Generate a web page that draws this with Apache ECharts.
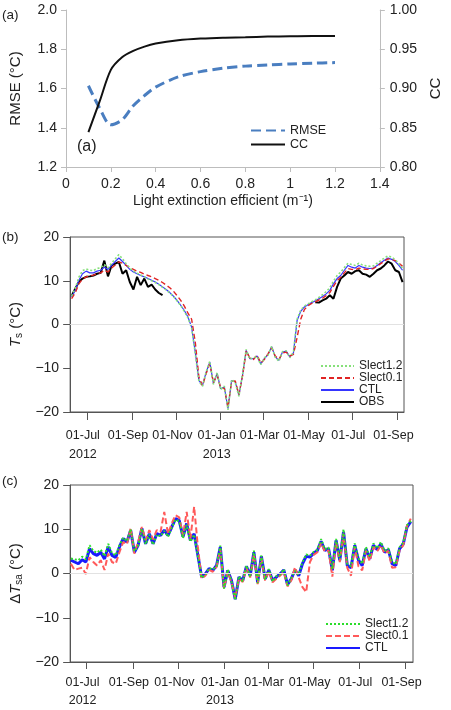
<!DOCTYPE html>
<html>
<head>
<meta charset="utf-8">
<script src="https://cdn.jsdelivr.net/npm/echarts@6/dist/echarts.min.js"></script>
<style>
  html, body { margin: 0; padding: 0; background: #fff; }
  #chart { width: 451px; height: 710px; }
</style>
</head>
<body>
<div id="chart"></div>
<script>
// (a) RMSE / CC against light extinction efficient
var extinction = [0.1, 0.15, 0.2, 0.25, 0.3, 0.35, 0.4, 0.5, 0.6, 0.7, 0.8, 0.9, 1.0, 1.1, 1.2];
var rmse = [1.614, 1.50, 1.415, 1.44, 1.512, 1.564, 1.607, 1.659, 1.686, 1.703, 1.714, 1.720, 1.725, 1.729, 1.732];
var cc = [0.8445, 0.8835, 0.9237, 0.9398, 0.9479, 0.9534, 0.9572, 0.9614, 0.9636, 0.9648, 0.9653, 0.9661, 0.9665, 0.9669, 0.9669];

// (b) and (c): one sample every 5 days from 10 Jun 2012
var sampleStart = [2012, 6, 10];
var sampleStep = 5;

// (b) Ts
var tsSlect12 = [6.5, 8.3, 10.8, 12.3, 12.7, 12.4, 12.3, 12.8, 13.0, 13.7, 13.0, 14.0, 15.0, 16.0, 15.0, 13.9, 12.9, 12.2, 11.7, 11.3,
  10.9, 10.4, 10.0, 9.6, 9.1, 8.5, 7.9, 7.2, 6.4, 5.4, 4.3, 3.0, 1.5, -0.8, -6.6, -13.0, -14.1, -10.8, -8.4, -13.7,
  -11.0, -14.9, -14.1, -19.5, -12.6, -13.3, -16.4, -11.4, -5.7, -7.9, -7.6, -7.3, -9.2, -7.6, -7.0, -5.0, -7.5, -8.4, -6.2, -6.0,
  -7.6, -6.3, 1.2, 3.3, 4.2, 4.7, 5.2, 5.6, 6.2, 6.8, 7.5, 8.4, 9.9, 11.2, 12.0, 13.0, 14.0, 13.7, 13.5, 14.0,
  13.6, 13.4, 13.3, 13.4, 14.0, 14.6, 15.2, 15.7, 15.4, 14.8, 13.9, 12.8];
var tsSlect01 = [5.9, 7.2, 9.3, 10.4, 10.9, 11.1, 11.3, 11.6, 11.8, 12.4, 12.0, 12.9, 13.6, 14.3, 14.0, 13.5, 13.0, 12.6, 12.2, 11.9,
  11.5, 11.2, 10.9, 10.5, 10.1, 9.6, 9.0, 8.4, 7.6, 6.6, 5.5, 4.2, 2.6, 1.2, -4.0, -12.0, -14.0, -11.2, -8.9, -13.3,
  -11.5, -14.5, -14.6, -18.9, -13.0, -12.9, -16.0, -11.8, -6.1, -7.6, -8.0, -7.0, -8.8, -8.0, -6.7, -5.3, -7.2, -8.0, -6.5, -6.3,
  -7.2, -6.8, -3.0, 1.2, 3.4, 4.3, 4.8, 5.2, 5.6, 6.0, 6.6, 7.3, 8.7, 10.0, 10.8, 11.8, 12.8, 12.6, 12.5, 12.9,
  12.7, 12.6, 12.6, 12.8, 13.3, 13.9, 14.5, 15.0, 14.9, 14.6, 14.0, 13.3];
var tsCtl = [6.3, 7.8, 10.1, 11.6, 12.2, 11.8, 11.8, 12.2, 12.4, 13.1, 12.6, 13.5, 14.4, 15.2, 14.4, 13.5, 12.6, 12.0, 11.6, 11.2,
  10.9, 10.5, 10.1, 9.7, 9.2, 8.6, 8.0, 7.3, 6.5, 5.5, 4.4, 3.2, 1.7, -0.6, -6.3, -12.8, -13.9, -10.9, -8.6, -13.5,
  -11.2, -14.7, -14.3, -19.2, -12.8, -13.1, -16.2, -11.6, -5.9, -7.8, -7.8, -7.2, -9.0, -7.8, -6.9, -5.1, -7.4, -8.2, -6.3, -6.1,
  -7.4, -6.5, 0.9, 3.0, 4.0, 4.5, 5.0, 5.4, 5.9, 6.4, 7.0, 7.8, 9.3, 10.5, 11.2, 12.4, 13.5, 13.1, 12.9, 13.5,
  13.1, 12.9, 12.8, 12.9, 13.5, 14.1, 14.7, 15.2, 14.9, 14.4, 13.5, 12.4];
var tsObs = [6.5, 8.2, 9.7, 10.5, 10.9, 11.0, 11.2, 11.6, 11.8, 14.6, 11.0, 13.5, 13.9, 14.3, 11.6, 12.4, 9.7, 8.0, 10.9, 9.0,
  10.5, 8.6, 9.1, 8.0, 7.2, 6.7, null, null, null, null, null, null, null, null, null, null, null, null, null, null,
  null, null, null, null, null, null, null, null, null, null, null, null, null, null, null, null, null, null, null, null,
  null, null, null, null, null, null, null, 5.1, 5.0, 5.5, 5.9, 6.7, 5.9, 8.6, 10.5, 11.2, 12.0, 11.6, 12.2, 12.4,
  11.6, 11.4, 10.9, 11.6, 12.4, 12.8, 13.5, 14.4, 13.9, 12.4, 12.0, 9.7];

// (c) delta Tsa
var dtSlect12 = [3.4, 3.2, 3.0, 3.8, 3.2, 6.4, 5.1, 4.7, 5.4, 3.9, 6.7, 4.6, 4.1, 6.4, 8.1, 7.3, 10.0, 5.0, 6.3, 10.1,
  6.6, 8.8, 6.5, 8.8, 8.4, 9.6, 8.3, 10.3, 12.2, 11.8, 8.0, 11.0, 7.2, 8.8, 3.8, -1.0, -0.3, 1.2, 0.9, 1.6,
  6.3, -3.4, 0.9, -1.8, -6.0, -0.6, -1.8, 1.8, -0.7, 5.2, -2.2, 4.1, -1.4, 1.0, -1.8, -0.6, -0.3, 1.0, -2.7, -1.0,
  0.6, -0.3, 2.6, 4.3, 4.0, 4.9, 5.4, 7.8, 5.5, 5.9, 1.0, 7.8, 3.3, 10.0, 2.1, 1.7, 6.8, 3.4, 2.2, 6.0,
  3.7, 6.8, 5.7, 7.1, 5.1, 5.7, 2.6, 2.1, 5.9, 7.0, 10.9, 11.9];
var dtSlect01 = [2.2, 0.8, 1.1, 1.3, -0.1, 3.7, 2.6, 1.8, 3.0, 0.8, 4.5, 2.6, 2.2, 4.8, 7.1, 6.6, 10.2, 4.5, 7.1, 10.5,
  7.5, 9.8, 7.7, 9.8, 9.4, 13.9, 9.0, 11.3, 13.2, 12.7, 8.6, 13.9, 7.9, 15.1, 6.0, -1.2, -0.5, 0.8, 0.4, 1.5,
  5.6, -3.4, 0.4, -2.0, -5.5, -1.1, -1.9, 1.3, -0.9, 4.4, -2.4, 3.5, -1.6, 0.5, -2.0, -1.2, -0.5, 0.4, -2.9, -1.6,
  1.4, -0.9, -3.1, -4.2, 2.6, 4.2, 4.8, 6.9, 4.9, 5.2, -0.7, 7.1, 2.6, 9.0, 1.3, -0.5, 6.0, 1.6, 0.7, 5.2,
  2.8, 6.0, 5.0, 6.4, 4.5, 5.1, 1.3, 1.4, 5.2, 6.4, 10.8, 12.4];
var dtCtl = [3.0, 2.6, 2.2, 3.1, 2.6, 5.6, 4.5, 4.1, 4.8, 3.3, 6.0, 4.1, 3.6, 6.0, 7.9, 7.1, 9.8, 4.8, 6.4, 10.2,
  6.7, 9.0, 6.7, 9.0, 8.6, 9.8, 8.6, 10.5, 12.4, 12.0, 8.3, 11.3, 7.5, 9.0, 4.1, -0.8, -0.1, 1.1, 0.7, 1.8,
  6.0, -3.1, 0.7, -1.6, -5.8, -0.8, -1.6, 1.6, -0.5, 4.8, -2.0, 3.9, -1.2, 0.8, -1.6, -0.8, -0.1, 0.8, -2.5, -1.2,
  0.8, -0.5, 2.2, 3.9, 3.7, 4.6, 5.2, 7.3, 5.2, 5.6, 0.7, 7.5, 3.0, 9.4, 1.8, 1.3, 6.4, 3.0, 1.8, 5.6,
  3.3, 6.4, 5.4, 6.7, 4.8, 5.4, 2.2, 1.8, 5.6, 6.7, 10.5, 11.7];

var monthTicks = ['2012-07-01', '2012-09-01', '2012-11-01', '2013-01-01', '2013-03-01', '2013-05-01', '2013-07-01', '2013-09-01'];
var monNames = ['Jan', 'Feb', 'Mar', 'Apr', 'May', 'Jun', 'Jul', 'Aug', 'Sep', 'Oct', 'Nov', 'Dec'];

var FONT = 'Liberation Sans, Arial, Helvetica, sans-serif';

function day(str) {
  var p = str.split('-');
  return new Date(+p[0], +p[1] - 1, +p[2]).getTime();
}

var sampleDates = [];
for (var i = 0; i < tsCtl.length; i++) {
  sampleDates.push(new Date(sampleStart[0], sampleStart[1] - 1, sampleStart[2] + sampleStep * i).getTime());
}

function pairs(arr) {
  return arr.map(function (v, k) { return [sampleDates[k], v]; });
}

var tickValues = monthTicks.map(day);

// "01-Jul", with the year underneath at the first tick of each year
function tickLabel(v) {
  var d = new Date(v);
  var dd = (d.getDate() < 10 ? '0' : '') + d.getDate();
  var s = dd + '-' + monNames[d.getMonth()];
  if (d.getFullYear() === 2012 && d.getMonth() === 6) s += '\n2012';
  if (d.getFullYear() === 2013 && d.getMonth() === 0) s += '\n2013';
  return s;
}

function minusLabel(v) {
  return v < 0 ? '\u2212' + Math.abs(v) : '' + v;
}

// dates are plotted as millisecond values on a plain value axis,
// so the month ticks can be placed exactly where they belong
function dateAxis(grid, min, max, margin, tickLen, lineH) {
  return {
    type: 'value',
    gridIndex: grid,
    min: day(min),
    max: day(max),
    axisLine: { show: true, onZero: false, lineStyle: { color: '#555', width: 1 } },
    axisTick: { show: true, length: tickLen, customValues: tickValues, lineStyle: { color: '#555' } },
    axisLabel: {
      customValues: tickValues,
      margin: margin,
      formatter: tickLabel,
      color: '#222',
      fontSize: 12.5,
      lineHeight: lineH,
      padding: [0, 8, 0, 0]
    },
    splitLine: { show: false }
  };
}

function tempAxis(grid, name, gap) {
  return {
    type: 'value',
    gridIndex: grid,
    min: -20,
    max: 20,
    interval: 10,
    name: name,
    nameLocation: 'middle',
    nameGap: gap,
    nameTextStyle: {
      rich: {
        i: { fontSize: 15, fontStyle: 'italic', color: '#222', fontFamily: FONT, lineHeight: 18 },
        s: { fontSize: 10, color: '#222', fontFamily: FONT, verticalAlign: 'bottom', lineHeight: 18 },
        n: { fontSize: 15, color: '#222', fontFamily: FONT, lineHeight: 18 }
      }
    },
    axisLine: { show: true, onZero: false, lineStyle: { color: '#555' } },
    axisTick: { show: true, length: 7, lineStyle: { color: '#555' } },
    axisLabel: { fontSize: 14, color: '#222', margin: 11, formatter: minusLabel },
    splitLine: { show: false }
  };
}

var zeroLine = {
  silent: true,
  symbol: 'none',
  animation: false,
  label: { show: false },
  lineStyle: { color: '#e2e2e2', type: 'solid', width: 1 },
  data: [{ yAxis: 0 }]
};

var panelTitle = { fontSize: 13.5, fontWeight: 'normal', color: '#222', fontFamily: FONT };

// legend keys show only the line, not the point marker
var noMarker = { opacity: 0 };

var option = {
  animation: false,
  textStyle: { fontFamily: FONT },
  title: [
    { text: '(a)', left: 2, top: 8, padding: 0, textStyle: panelTitle },
    { text: '(a)', left: 77, top: 139, padding: 0, textStyle: { fontSize: 16, fontWeight: 'normal', color: '#222', fontFamily: FONT } },
    { text: '(b)', left: 2, top: 230, padding: 0, textStyle: panelTitle },
    { text: '(c)', left: 2, top: 474, padding: 0, textStyle: panelTitle }
  ],
  legend: [
    {
      data: ['RMSE', 'CC'],
      orient: 'vertical',
      left: 245, top: 119,
      itemWidth: 34, itemHeight: 14, itemGap: 1,
      selectedMode: false,
      itemStyle: noMarker,
      textStyle: { fontSize: 12.5, color: '#222' }
    },
    {
      data: ['Slect1.2', 'Slect0.1', 'CTL', 'OBS'],
      orient: 'vertical',
      left: 315, top: 355,
      itemWidth: 33, itemHeight: 10, itemGap: 0,
      selectedMode: false,
      itemStyle: noMarker,
      textStyle: { fontSize: 12, color: '#222' }
    },
    {
      data: ['c:Slect1.2', 'c:Slect0.1', 'c:CTL'],
      orient: 'vertical',
      left: 320, top: 613,
      itemWidth: 34, itemHeight: 10, itemGap: 0,
      selectedMode: false,
      itemStyle: noMarker,
      formatter: function (n) { return n.replace('c:', ''); },
      textStyle: { fontSize: 12, color: '#222' }
    }
  ],
  grid: [
    { left: 61, top: 10, width: 334, height: 157 },
    { left: 60, top: 237, width: 344, height: 175, show: true, borderColor: '#555', borderWidth: 1, backgroundColor: 'transparent' },
    { left: 59, top: 485, width: 354, height: 177, show: true, borderColor: '#555', borderWidth: 1, backgroundColor: 'transparent' }
  ],
  xAxis: [
    {
      type: 'value',
      gridIndex: 0,
      min: 0, max: 1.4, interval: 0.2,
      name: 'Light extinction efficient (m\u207B\u00B9)',
      nameLocation: 'middle',
      nameGap: 27,
      nameTextStyle: { fontSize: 14, color: '#222' },
      axisLine: { onZero: false, lineStyle: { color: '#bdbdbd' } },
      axisTick: { show: true, length: 5, lineStyle: { color: '#bdbdbd' } },
      axisLabel: { fontSize: 14, color: '#222', margin: 10 },
      splitLine: { show: false }
    },
    dateAxis(1, '2012-06-08', '2013-09-10', 14.5, 8, 19),
    dateAxis(2, '2012-06-09', '2013-09-11', 12, 7, 18)
  ],
  yAxis: [
    {
      type: 'value',
      gridIndex: 0,
      min: 1.2, max: 2.0, interval: 0.2,
      name: 'RMSE (\u00B0C)',
      nameLocation: 'middle',
      nameGap: 43,
      nameTextStyle: { fontSize: 15, color: '#222' },
      axisLine: { show: true, onZero: false, lineStyle: { color: '#bdbdbd' } },
      axisTick: { show: true, length: 5, lineStyle: { color: '#bdbdbd' } },
      axisLabel: { fontSize: 14, color: '#222', margin: 9, formatter: function (v) { return v.toFixed(1); } },
      splitLine: { show: false }
    },
    {
      type: 'value',
      gridIndex: 0,
      position: 'right',
      min: 0.8, max: 1.0, interval: 0.05,
      name: 'CC',
      nameLocation: 'middle',
      nameGap: 41,
      nameTextStyle: { fontSize: 15, color: '#222' },
      axisLine: { show: true, onZero: false, lineStyle: { color: '#bdbdbd' } },
      axisTick: { show: true, length: 5, lineStyle: { color: '#bdbdbd' } },
      axisLabel: { fontSize: 14, color: '#222', margin: 10, formatter: function (v) { return v.toFixed(2); } },
      splitLine: { show: false }
    },
    tempAxis(1, '{i|T}{s|s}{n| (\u00B0C)}', 42),
    tempAxis(2, '{n|\u0394}{i|T}{s|sa}{n| (\u00B0C)}', 39)
  ],
  series: [
    {
      name: 'RMSE', type: 'line', xAxisIndex: 0, yAxisIndex: 0,
      data: extinction.map(function (x, k) { return [x, rmse[k]]; }),
      smooth: 0.3, symbol: 'none',
      lineStyle: { color: '#4a7ec0', width: 3, type: [10, 5] },
      itemStyle: { color: '#4a7ec0' }
    },
    {
      name: 'CC', type: 'line', xAxisIndex: 0, yAxisIndex: 1,
      data: extinction.map(function (x, k) { return [x, cc[k]]; }),
      smooth: 0.3, symbol: 'none',
      lineStyle: { color: '#111', width: 2 },
      itemStyle: { color: '#111' }
    },
    // (b)
    {
      name: 'OBS', type: 'line', xAxisIndex: 1, yAxisIndex: 2,
      data: pairs(tsObs), symbol: 'none', connectNulls: false,
      lineStyle: { color: '#000', width: 2 }, itemStyle: { color: '#000' },
      markLine: zeroLine
    },
    {
      name: 'CTL', type: 'line', xAxisIndex: 1, yAxisIndex: 2,
      data: pairs(tsCtl), symbol: 'none',
      lineStyle: { color: '#3535ff', width: 1.2 }, itemStyle: { color: '#3535ff' }
    },
    {
      name: 'Slect0.1', type: 'line', xAxisIndex: 1, yAxisIndex: 2,
      data: pairs(tsSlect01), symbol: 'none',
      lineStyle: { color: '#e02424', width: 1.4, type: [5, 3] }, itemStyle: { color: '#e02424' }
    },
    {
      name: 'Slect1.2', type: 'line', xAxisIndex: 1, yAxisIndex: 2,
      data: pairs(tsSlect12), symbol: 'none',
      lineStyle: { color: '#86e07a', width: 1.6, type: [2, 2] }, itemStyle: { color: '#86e07a' }
    },
    // (c)
    {
      name: 'c:CTL', type: 'line', xAxisIndex: 2, yAxisIndex: 3,
      data: pairs(dtCtl), symbol: 'none',
      lineStyle: { color: '#1a1aff', width: 3 }, itemStyle: { color: '#1a1aff' },
      markLine: zeroLine
    },
    {
      name: 'c:Slect0.1', type: 'line', xAxisIndex: 2, yAxisIndex: 3,
      data: pairs(dtSlect01), symbol: 'none',
      lineStyle: { color: '#ff5a5a', width: 2, type: [6, 3] }, itemStyle: { color: '#ff5a5a' }
    },
    {
      name: 'c:Slect1.2', type: 'line', xAxisIndex: 2, yAxisIndex: 3,
      data: pairs(dtSlect12), symbol: 'none',
      lineStyle: { color: '#2add2a', width: 2, type: [2, 2] }, itemStyle: { color: '#2add2a' }
    }
  ]
};

var chart = echarts.init(document.getElementById('chart'), null, { renderer: 'canvas' });
chart.setOption(option);
</script>
</body>
</html>
